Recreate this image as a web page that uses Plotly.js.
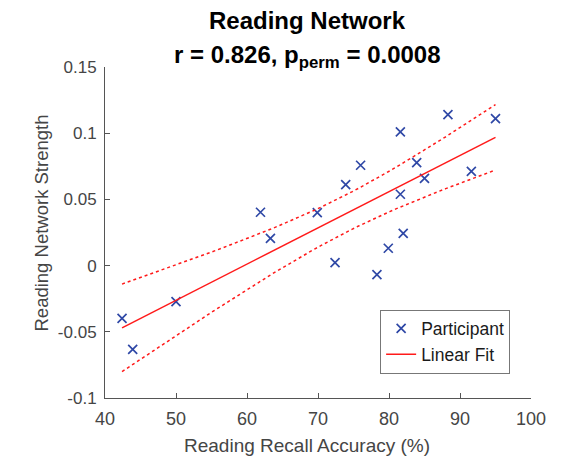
<!DOCTYPE html>
<html>
<head>
<meta charset="utf-8">
<script src="https://cdn.plot.ly/plotly-3.0.1.min.js"></script>
<style>html,body{margin:0;padding:0;background:#fff;}#chart{width:567px;height:457px;}</style>
</head>
<body>
<div id="chart"></div>
<script>
// Participant data
var accuracy = [42.4, 43.9, 50.0, 61.9, 63.3, 69.9, 72.4, 73.9, 76.0, 78.3, 79.9, 81.6, 81.6, 82.0, 83.9, 85.0, 88.3, 91.6, 95.0];
var strength = [-0.0398, -0.0632, -0.0272, 0.0403, 0.0206, 0.040, 0.0023, 0.0612, 0.0758, -0.0068, 0.0131, 0.101, 0.0539, 0.0244, 0.0778, 0.0659, 0.114, 0.0712, 0.111];

var xTickVals = [40, 50, 60, 70, 80, 90, 100];
var xTickText = ['40', '50', '60', '70', '80', '90', '100'];
var yTickVals = [-0.1, -0.05, 0, 0.05, 0.1, 0.15];
var yTickText = ['-0.1', '-0.05', '0', '0.05', '0.1', '0.15'];

// Ordinary least squares fit and 95% confidence band of the mean (df = n-2)
var n = accuracy.length;
var mx = accuracy.reduce(function(a,b){return a+b;},0)/n;
var my = strength.reduce(function(a,b){return a+b;},0)/n;
var sxx = 0, sxy = 0;
for (var i=0;i<n;i++){ sxx += (accuracy[i]-mx)*(accuracy[i]-mx); sxy += (accuracy[i]-mx)*(strength[i]-my); }
var slope = sxy/sxx, icpt = my - slope*mx;
var sse = 0;
for (var i=0;i<n;i++){ var r = strength[i]-(icpt+slope*accuracy[i]); sse += r*r; }
var s = Math.sqrt(sse/(n-2));
var tcrit = 2.1098;
var xmin = Math.min.apply(null, accuracy), xmax = Math.max.apply(null, accuracy);
var fx = [], fy = [], up = [], lo = [];
for (var k=0;k<=60;k++){
  var x = xmin + (xmax-xmin)*k/60;
  var yh = icpt + slope*x;
  var h = tcrit*s*Math.sqrt(1/n + (x-mx)*(x-mx)/sxx);
  fx.push(x); fy.push(yh); up.push(yh+h); lo.push(yh-h);
}

var blue = '#2f48a6', red = '#ff1a1a';
var FAM = 'Liberation Sans, Arial, Helvetica, sans-serif';
var traces = [
  {x: accuracy, y: strength, mode: 'markers', type: 'scatter', name: 'Participant',
   marker: {symbol: 'x-thin', size: 9, line: {color: blue, width: 1.7}, color: blue}},
  {x: fx, y: fy, mode: 'lines', type: 'scatter', name: 'Linear Fit',
   line: {color: red, width: 1.5}},
  {x: fx, y: up, mode: 'lines', type: 'scatter', showlegend: false,
   line: {color: red, width: 1.5, dash: 'dot'}},
  {x: fx, y: lo, mode: 'lines', type: 'scatter', showlegend: false,
   line: {color: red, width: 1.5, dash: 'dot'}}
];

var layout = {
  width: 567, height: 457,
  margin: {l: 105, r: 36, t: 67, b: 59},
  paper_bgcolor: '#fff', plot_bgcolor: '#fff',
  showlegend: true,
  font: {family: FAM, size: 17, color: '#454545'},
  xaxis: {range: [40, 100], tickvals: xTickVals, ticktext: xTickText,
    showgrid: false, zeroline: false, showline: true, linecolor: '#555', linewidth: 1,
    ticks: 'inside', ticklen: 5, tickcolor: '#555', ticklabelstandoff: 4,
    tickfont: {family: FAM, size: 18, color: '#454545'}},
  yaxis: {range: [-0.1, 0.15], tickvals: yTickVals, ticktext: yTickText,
    showgrid: false, zeroline: false, showline: true, linecolor: '#555', linewidth: 1,
    ticks: 'inside', ticklen: 5, tickcolor: '#555', ticklabelstandoff: 4,
    tickfont: {family: FAM, size: 17, color: '#454545'}},
  legend: {x: 0.951, y: 0.074, xanchor: 'right', yanchor: 'bottom',
    bordercolor: '#777', borderwidth: 1, bgcolor: '#fff',
    font: {family: FAM, size: 17.5, color: '#1a1a1a'},
    tracegroupgap: 0, itemwidth: 30},
  annotations: [
    {text: '<b>Reading Network</b>', xref: 'paper', yref: 'paper', x: 0.476, y: 1.139,
     xanchor: 'center', yanchor: 'middle', showarrow: false,
     font: {family: FAM, size: 24, color: '#000'}},
    {text: '<b>r = 0.826, p<sub>perm</sub> = 0.0008</b>', xref: 'paper', yref: 'paper', x: 0.476, y: 1.033,
     xanchor: 'center', yanchor: 'middle', showarrow: false,
     font: {family: FAM, size: 24, color: '#000'}},
    {text: 'Reading Recall Accuracy (%)', xref: 'paper', yref: 'paper', x: 0.475, y: -0.142,
     xanchor: 'center', yanchor: 'middle', showarrow: false,
     font: {family: FAM, size: 19, color: '#454545'}},
    {text: 'Reading Network Strength', xref: 'paper', yref: 'paper', x: -0.148, y: 0.530,
     xanchor: 'center', yanchor: 'middle', showarrow: false, textangle: -90,
     font: {family: FAM, size: 18.5, color: '#454545'}}
  ]
};
Plotly.newPlot('chart', traces, layout, {displayModeBar: false, staticPlot: true});
</script>
</body>
</html>
